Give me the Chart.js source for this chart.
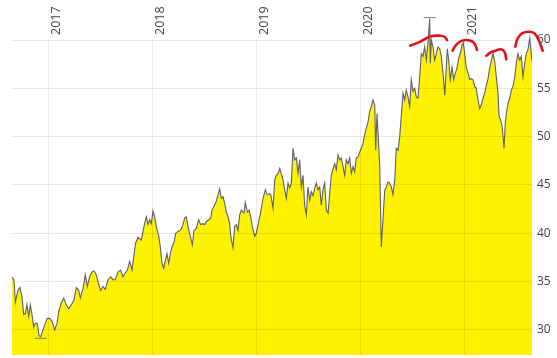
<!DOCTYPE html>
<html>
<head>
<meta charset="utf-8">
<script src="https://cdn.jsdelivr.net/npm/chart.js@4.4.0/dist/chart.umd.min.js"></script>
<style>
html,body{margin:0;padding:0;background:#ffffff;}
canvas{display:block;}
</style>
</head>
<body>
<canvas id="c" width="557" height="358"></canvas>
<script>
// ---- data (decimal years / price) ----
const dates = [
2016.657,2016.676,2016.689,2016.715,2016.734,2016.753,2016.770,2016.785,2016.801,2016.818,
2016.833,2016.849,2016.866,2016.881,2016.900,2016.917,2016.933,2016.948,2016.971,2016.996,
2017.020,2017.042,2017.068,2017.090,2017.106,2017.131,2017.154,2017.179,2017.202,2017.227,
2017.253,2017.275,2017.298,2017.314,2017.340,2017.362,2017.381,2017.404,2017.426,2017.446,
2017.468,2017.491,2017.510,2017.532,2017.554,2017.580,2017.606,2017.628,2017.650,2017.676,
2017.702,2017.724,2017.746,2017.766,2017.789,2017.811,2017.830,2017.846,2017.869,2017.900,
2017.926,2017.948,2017.965,2017.981,2017.996,2018.013,2018.029,2018.045,2018.068,2018.083,
2018.099,2018.116,2018.131,2018.147,2018.164,2018.179,2018.196,2018.215,2018.231,2018.253,
2018.275,2018.295,2018.318,2018.333,2018.349,2018.371,2018.391,2018.407,2018.429,2018.452,
2018.471,2018.494,2018.510,2018.525,2018.548,2018.568,2018.580,2018.599,2018.621,2018.638,
2018.654,2018.670,2018.686,2018.702,2018.718,2018.734,2018.750,2018.760,2018.782,2018.798,
2018.814,2018.830,2018.846,2018.862,2018.888,2018.900,2018.920,2018.936,2018.952,2018.968,
2018.991,2019.006,2019.029,2019.048,2019.071,2019.093,2019.112,2019.135,2019.145,2019.167,
2019.183,2019.198,2019.215,2019.231,2019.246,2019.263,2019.279,2019.295,2019.311,2019.327,
2019.343,2019.359,2019.375,2019.391,2019.407,2019.423,2019.439,2019.455,2019.471,2019.487,
2019.503,2019.520,2019.535,2019.551,2019.568,2019.583,2019.599,2019.616,2019.631,2019.647,
2019.664,2019.679,2019.696,2019.712,2019.727,2019.744,2019.760,2019.775,2019.792,2019.808,
2019.823,2019.840,2019.856,2019.871,2019.888,2019.904,2019.920,2019.936,2019.952,2019.968,
2019.984,2020.000,2020.016,2020.032,2020.048,2020.064,2020.080,2020.096,2020.112,2020.128,
2020.145,2020.154,2020.167,2020.193,2020.208,2020.224,2020.241,2020.256,2020.272,2020.289,
2020.304,2020.320,2020.337,2020.352,2020.369,2020.385,2020.400,2020.417,2020.433,2020.448,
2020.465,2020.481,2020.496,2020.513,2020.529,2020.545,2020.561,2020.577,2020.593,2020.609,
2020.625,2020.641,2020.657,2020.673,2020.679,2020.689,2020.705,2020.721,2020.737,2020.753,
2020.770,2020.785,2020.801,2020.818,2020.833,2020.843,2020.856,2020.871,2020.888,2020.904,
2020.920,2020.936,2020.952,2020.968,2020.984,2020.996,2021.010,2021.025,2021.042,2021.058,
2021.073,2021.090,2021.106,2021.121,2021.138,2021.154,2021.170,2021.186,2021.202,2021.218,
2021.234,2021.250,2021.266,2021.282,2021.298,2021.314,2021.330,2021.340,2021.356,2021.371,
2021.388,2021.400,2021.410,2021.426,2021.443,2021.458,2021.474,2021.491,2021.506,2021.522,
2021.539,2021.554,2021.570,2021.587,2021.602,2021.618,2021.635,2021.644,2021.657
];
const prices = [
35.45,35.2,32.9,34.1,34.4,33.4,31.6,31.7,32.6,31.4,
32.6,31.6,30.3,30.7,30.7,29.4,29.3,29.8,30.5,31.2,
31.2,30.9,30.0,30.7,31.9,32.8,33.3,32.6,32.2,32.6,
33.1,34.4,34.1,33.3,34.3,35.7,34.5,35.5,36.0,36.1,
35.7,34.7,34.1,34.5,34.2,35.2,35.5,35.2,35.2,36.0,
36.2,35.5,35.9,36.2,37.1,36.2,37.8,39.0,39.6,39.3,
40.7,41.7,40.9,41.4,41.0,42.3,41.7,40.7,39.7,38.6,
36.9,36.4,37.2,37.9,36.9,37.9,38.6,39.1,40.0,40.2,
40.3,40.7,41.6,41.7,40.7,39.7,38.8,40.3,40.5,41.4,
40.9,41.0,40.9,41.2,41.4,41.6,42.4,42.8,43.3,44.0,
44.6,43.6,43.8,43.1,42.2,41.7,41.0,39.7,38.5,40.7,
40.9,40.3,41.9,42.4,42.1,43.2,42.2,42.4,41.7,40.7,
39.7,40.0,41.2,42.2,43.6,44.5,44.0,44.1,44.0,42.6,
45.5,46.0,46.2,46.7,46.2,45.5,44.5,43.6,45.2,44.7,
45.2,48.8,47.6,47.8,46.2,47.6,44.8,46.0,42.9,41.9,
44.8,43.4,44.3,43.9,44.7,45.2,44.5,44.8,42.9,44.5,
45.2,42.4,42.1,44.1,46.0,46.7,47.2,46.6,48.1,47.6,
47.8,46.9,46.0,47.6,47.2,47.8,46.2,46.9,46.4,47.8,
47.9,48.4,48.8,49.3,50.2,50.9,51.5,52.6,53.1,53.8,
53.3,48.6,52.4,46.9,38.6,41.4,44.5,44.8,45.3,45.2,
44.8,44.0,45.5,48.8,48.6,50.0,52.1,54.5,53.8,54.8,
54.1,53.1,55.9,54.7,55.0,54.1,54.0,56.2,58.6,58.3,
59.3,57.9,59.7,62.2,57.6,60.0,59.3,57.9,58.6,59.3,
59.1,58.3,56.6,54.3,57.2,59.1,57.9,55.9,57.2,55.9,
56.6,57.1,58.1,58.6,59.5,59.7,58.6,57.1,56.6,55.9,
56.0,55.9,55.2,55.0,53.8,52.9,53.3,54.0,54.5,55.3,
56.0,57.1,57.9,58.6,57.8,56.2,54.5,52.1,51.7,51.0,
48.8,51.4,52.4,53.4,54.0,54.8,55.2,56.2,57.6,58.6,
57.9,58.3,56.2,57.6,58.6,59.0,60.2,59.3,57.8
];
// year tick labels (top axis) and value ticks (right axis)
const yearTicks = [2017, 2018, 2019, 2020, 2021];
const valueTicks = [30, 35, 40, 45, 50, 55, 60];
// low / high markers
const extremeDates = [2016.934, 2020.673];
const extremeValues = [29.14, 62.31];
// hand-drawn red arcs (in data units)
const arc1Dates = [2020.487, 2020.584, 2020.683, 2020.776, 2020.818, 2020.840];
const arc1Values = [59.41, 59.84, 60.38, 60.44, 60.31, 60.00];
const arc2Dates = [2020.894, 2020.919, 2020.962, 2021.016, 2021.064, 2021.102, 2021.128];
const arc2Values = [58.89, 59.38, 59.82, 60.00, 59.93, 59.66, 58.97];
const arc3Dates = [2021.218, 2021.256, 2021.304, 2021.359, 2021.391, 2021.410];
const arc3Values = [58.38, 58.69, 58.89, 59.04, 58.79, 58.00];
const arc4Dates = [2021.496, 2021.520, 2021.561, 2021.625, 2021.679, 2021.721, 2021.760];
const arc4Values = [59.31, 60.18, 60.69, 60.86, 60.69, 60.00, 58.89];

// ---- chart ----
const X_MIN = 2016.657, X_MAX = 2021.657;
const Y_MIN = 27.41, Y_MAX = 64.14;
const GRID = 'rgba(0,0,0,0.085)';
const TEXT = '#454545';
const FONT = '"Open Sans", "DejaVu Sans", sans-serif';

const pts = (xs, ys) => xs.map((x, i) => ({x: x, y: ys[i]}));

const arcDs = (xs, ys) => ({
  type: 'line', data: pts(xs, ys), xAxisID: 'xa',
  borderColor: '#e3111a', borderWidth: 2.6, tension: 0.45,
  pointRadius: 0, fill: false, clip: false, order: 0,
  borderCapStyle: 'round'
});

const topAxisPlugin = {
  id: 'topAxis',
  afterDatasetsDraw(chart) {
    const ctx = chart.ctx, xs = chart.scales.x, ys = chart.scales.y;
    const area = chart.chartArea;
    const yTop = Math.round(ys.getPixelForValue(valueTicks[valueTicks.length - 1]));
    ctx.save();
    ctx.strokeStyle = GRID;
    ctx.lineWidth = 1;
    yearTicks.forEach(yr => {
      const px = Math.round(xs.getPixelForValue(yr)) + 0.5;
      ctx.beginPath();
      ctx.moveTo(px, yTop);
      ctx.lineTo(px, area.bottom);
      ctx.stroke();
    });
    ctx.fillStyle = TEXT;
    ctx.font = '12.5px ' + FONT;
    ctx.textAlign = 'left';
    ctx.textBaseline = 'middle';
    yearTicks.forEach(yr => {
      const px = xs.getPixelForValue(yr);
      ctx.save();
      ctx.translate(px + 9, 35);
      ctx.rotate(-Math.PI / 2);
      ctx.fillText(String(yr), 0, 0);
      ctx.restore();
    });
    ctx.restore();
  }
};

new Chart(document.getElementById('c'), {
  type: 'line',
  data: {
    datasets: [
      {
        data: pts(dates, prices),
        borderColor: '#5d606c', borderWidth: 1.1,
        backgroundColor: '#fff200', fill: 'start',
        pointRadius: 0, tension: 0, order: 3
      },
      {
        type: 'scatter', data: pts(extremeDates, extremeValues),
        pointStyle: 'line', pointRadius: 6,
        borderColor: '#7a7a7a', pointBorderColor: '#7a7a7a', borderWidth: 1, order: 2
      },
      arcDs(arc1Dates, arc1Values),
      arcDs(arc2Dates, arc2Values),
      arcDs(arc3Dates, arc3Values),
      arcDs(arc4Dates, arc4Values)
    ]
  },
  options: {
    responsive: false,
    devicePixelRatio: 1,
    animation: false,
    events: [],
    layout: { autoPadding: false, padding: { left: 12, top: 0, right: 0, bottom: 3 } },
    plugins: { legend: { display: false }, tooltip: { enabled: false } },
    scales: {
      x: { type: 'linear', min: X_MIN, max: X_MAX, display: false },
      xa: {
        type: 'linear', display: false, bounds: 'data',
        afterDataLimits(s) { s.min = X_MIN; s.max = X_MAX; }
      },
      y: {
        position: 'right', min: Y_MIN, max: Y_MAX,
        border: { display: false },
        grid: { color: GRID, drawTicks: false, z: 1 },
        ticks: { color: TEXT, padding: 5, font: { family: FONT, size: 12 } },
        afterBuildTicks(s) { s.ticks = valueTicks.map(v => ({ value: v })); },
        afterFit(s) { s.width = 25; s.paddingTop = 0; s.paddingBottom = 0; }
      }
    }
  },
  plugins: [topAxisPlugin]
});
</script>
</body>
</html>
